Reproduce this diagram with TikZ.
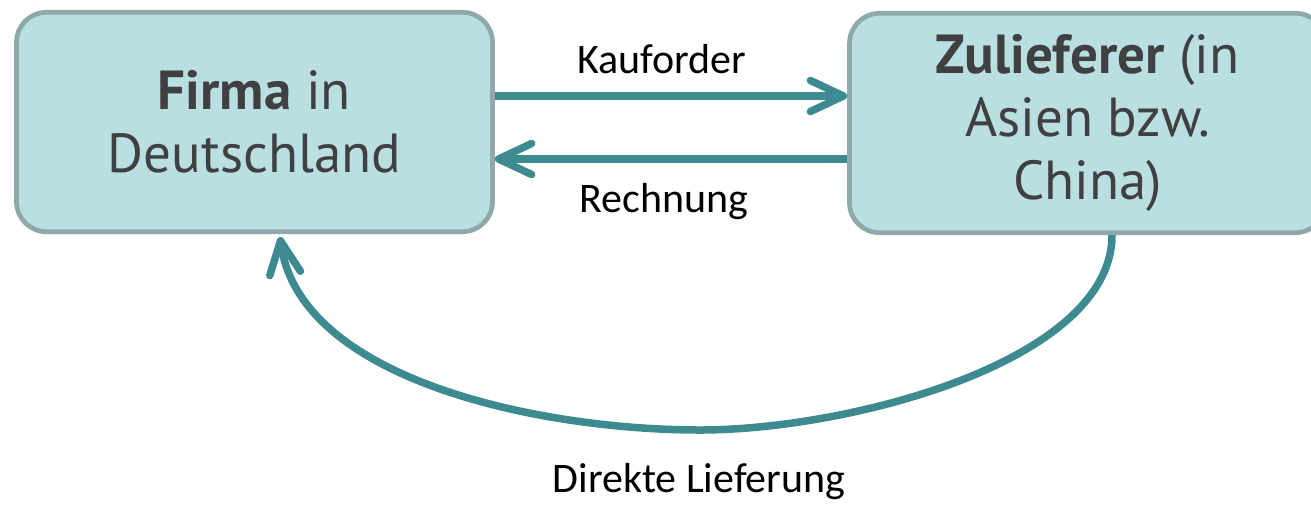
\documentclass[tikz,border=0pt]{standalone}
\usepackage{fontspec}
\setmainfont{Carlito}
\newfontfamily\boxfont{PT Sans}
\usepackage{tikz}
\usetikzlibrary{arrows.meta}
\definecolor{boxfill}{HTML}{B9DFE2}
\definecolor{boxline}{HTML}{8FA8AA}
\definecolor{linecolor}{HTML}{3D8B90}
\definecolor{textcolor}{HTML}{404040}

\begin{document}
\begin{tikzpicture}[x=0.5pt,y=-0.5pt,
    firmbox/.style={draw=boxline,fill=boxfill,line width=2.35pt,rounded corners=15pt,
      minimum width=238pt,minimum height=109.7pt,align=center,text=textcolor,
      font=\boxfont\fontsize{27.5}{31.5}\selectfont},
    flow/.style={draw=linecolor,line width=3.75pt,
      -{Straight Barb[length=16.5pt,width=15.5pt,round]}},
    flowtext/.style={anchor=base,inner sep=0pt,font=\fontsize{21}{24}\selectfont}]
   \useasboundingbox (0,0) rectangle (1311,505);
   \clip (0,0) rectangle (1311,505);
%% the two partners
   \node[firmbox] (firma) at (254.5,122) {\textbf{Firma} in\\Deutschland};
   \node[firmbox] (zuliefer) at (1087.5,123) {\textbf{Zulieferer} (in\\Asien bzw.\\China)};
%% order and invoice
   \draw[flow] ([yshift=13pt]firma.east) -- ([yshift=13pt]firma.east -| zuliefer.west);
   \draw[flow] ([yshift=-18.5pt]firma.east -| zuliefer.west) -- ([yshift=-18.5pt]firma.east);
   \node[flowtext] (kauf) at (662,73.5) {Kauforder};
   \node[flowtext] (rech) at (664,212.5) {Rechnung};
%% delivery back round the bottom
   \coordinate (tief) at (700,430);
   \draw[flow] ([xshift=12.25pt]zuliefer.south) .. controls +(0,126) and +(150,0) .. (tief)
      .. controls +(-160,0) and +(20,143) .. ([xshift=12.75pt,yshift=-1.5pt]firma.south);
   \node[flowtext] (direkt) at (699,492.5) {Direkte Lieferung};
\end{tikzpicture}
\end{document}
